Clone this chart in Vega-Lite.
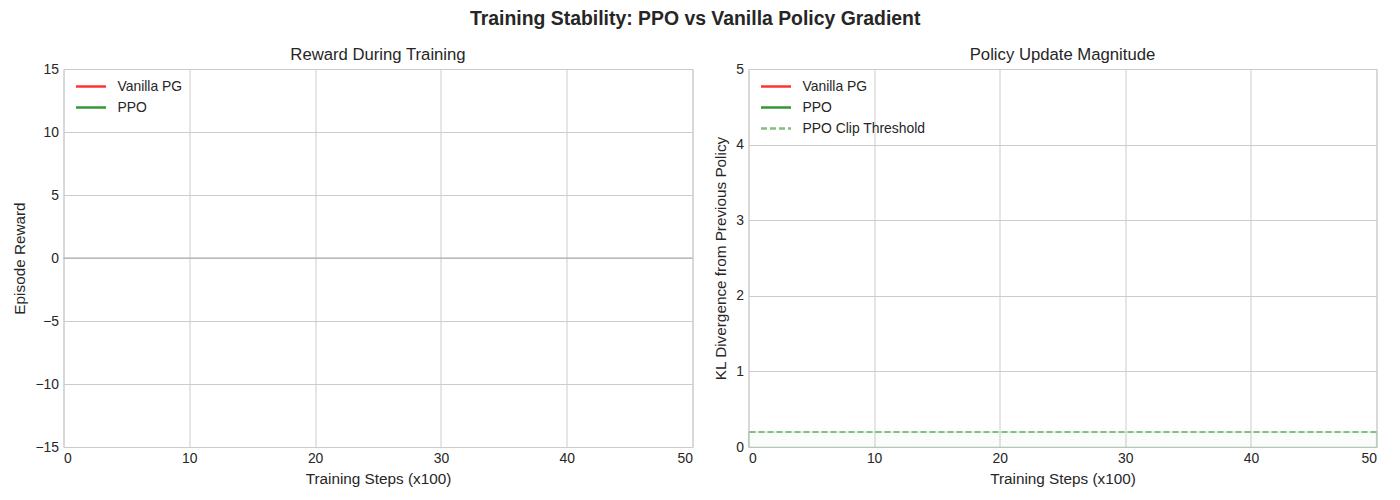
{
  "$schema": "https://vega.github.io/schema/vega-lite/v6.json",
  "background": "#ffffff",
  "padding": {"left": 11.5, "top": 9, "right": 10, "bottom": 6},
  "title": {
    "text": "Training Stability: PPO vs Vanilla Policy Gradient",
    "anchor": "middle",
    "fontSize": 19.4,
    "fontWeight": "bold",
    "font": "Liberation Sans",
    "color": "#262626",
    "offset": 17
  },
  "config": {
    "font": "Liberation Sans",
    "view": {"stroke": "#cccccc", "strokeWidth": 1},
    "axis": {
      "grid": true,
      "gridColor": "#cccccc",
      "gridWidth": 1,
      "domain": false,
      "ticks": false,
      "labelFont": "Liberation Sans",
      "labelFontSize": 13.9,
      "labelColor": "#262626",
      "labelPadding": 5,
      "titleFont": "Liberation Sans",
      "titleFontSize": 15.3,
      "titleFontWeight": "normal",
      "titleColor": "#262626",
      "titlePadding": 7
    },
    "axisX": {"labelPadding": 4, "titlePadding": 7},
    "title": {
      "font": "Liberation Sans",
      "fontSize": 16.7,
      "fontWeight": "normal",
      "color": "#262626",
      "offset": -2
    },
    "legend": {
      "labelFont": "Liberation Sans",
      "labelFontSize": 13.9,
      "labelColor": "#262626",
      "symbolType": "stroke",
      "symbolSize": 900,
      "symbolStrokeWidth": 2.5,
      "clipHeight": 21,
      "rowPadding": 0,
      "labelOffset": 10,
      "padding": 0
    }
  },
  "datasets": {
    "zero_line": [{"reward": 0}],
    "reward_curves": [],
    "kl_curves": [],
    "clip_band": [{"low": 0, "high": 0.2}],
    "clip_threshold": [{"series": "PPO Clip Threshold", "kl": 0.2}]
  },
  "resolve": {
    "scale": {"color": "independent", "strokeDash": "independent", "x": "independent", "y": "independent"},
    "legend": {"color": "independent", "strokeDash": "independent"}
  },
  "spacing": 19,
  "hconcat": [
    {
      "title": "Reward During Training",
      "width": 629,
      "height": 378,
      "layer": [
        {
          "data": {"name": "zero_line"},
          "mark": {"type": "rule", "color": "#a6a6a6", "strokeWidth": 1},
          "encoding": {
            "y": {"field": "reward", "type": "quantitative", "scale": {"domain": [-15, 15]}}
          }
        },
        {
          "data": {"name": "reward_curves"},
          "mark": {"type": "line", "strokeWidth": 2},
          "encoding": {
            "x": {
              "field": "step", "type": "quantitative",
              "scale": {"domain": [0, 50], "nice": false},
              "axis": {"values": [0, 10, 20, 30, 40, 50], "title": "Training Steps (x100)"}
            },
            "y": {
              "field": "reward", "type": "quantitative",
              "scale": {"domain": [-15, 15], "nice": false},
              "axis": {
                "values": [-15, -10, -5, 0, 5, 10, 15],
                "title": "Episode Reward",
                "labelExpr": "replace(datum.label, '-', '−')"
              }
            },
            "color": {
              "field": "series", "type": "nominal",
              "scale": {"domain": ["Vanilla PG", "PPO"], "range": ["#ff3333", "#339933"]},
              "legend": {"title": null, "orient": "none", "legendX": 11, "legendY": 7}
            }
          }
        }
      ]
    },
    {
      "title": "Policy Update Magnitude",
      "width": 628,
      "height": 378,
      "layer": [
        {
          "data": {"name": "clip_band"},
          "mark": {"type": "rect", "fill": "#008000", "fillOpacity": 0.025, "stroke": "#008000", "strokeOpacity": 0.12, "strokeWidth": 1.5},
          "encoding": {
            "y": {"field": "low", "type": "quantitative", "scale": {"domain": [0, 5]}},
            "y2": {"field": "high"}
          }
        },
        {
          "data": {"name": "kl_curves"},
          "mark": {"type": "line", "strokeWidth": 2},
          "encoding": {
            "x": {
              "field": "step", "type": "quantitative",
              "scale": {"domain": [0, 50], "nice": false},
              "axis": {"values": [0, 10, 20, 30, 40, 50], "title": "Training Steps (x100)"}
            },
            "y": {
              "field": "kl", "type": "quantitative",
              "scale": {"domain": [0, 5], "nice": false},
              "axis": {"values": [0, 1, 2, 3, 4, 5], "format": "d", "title": "KL Divergence from Previous Policy"}
            },
            "color": {
              "field": "series", "type": "nominal",
              "scale": {"domain": ["Vanilla PG", "PPO", "PPO Clip Threshold"], "range": ["#ff3333", "#339933", "#80c080"]},
              "legend": {"title": null, "orient": "none", "legendX": 11, "legendY": 7}
            },
            "strokeDash": {
              "field": "series", "type": "nominal",
              "scale": {"domain": ["Vanilla PG", "PPO", "PPO Clip Threshold"], "range": [[1, 0], [1, 0], [6, 3]]},
              "legend": {"title": null, "orient": "none", "legendX": 11, "legendY": 7}
            }
          }
        },
        {
          "data": {"name": "clip_threshold"},
          "mark": {"type": "rule", "strokeWidth": 2},
          "encoding": {
            "y": {"field": "kl", "type": "quantitative"},
            "color": {"field": "series", "type": "nominal"},
            "strokeDash": {"field": "series", "type": "nominal"}
          }
        }
      ]
    }
  ]
}
